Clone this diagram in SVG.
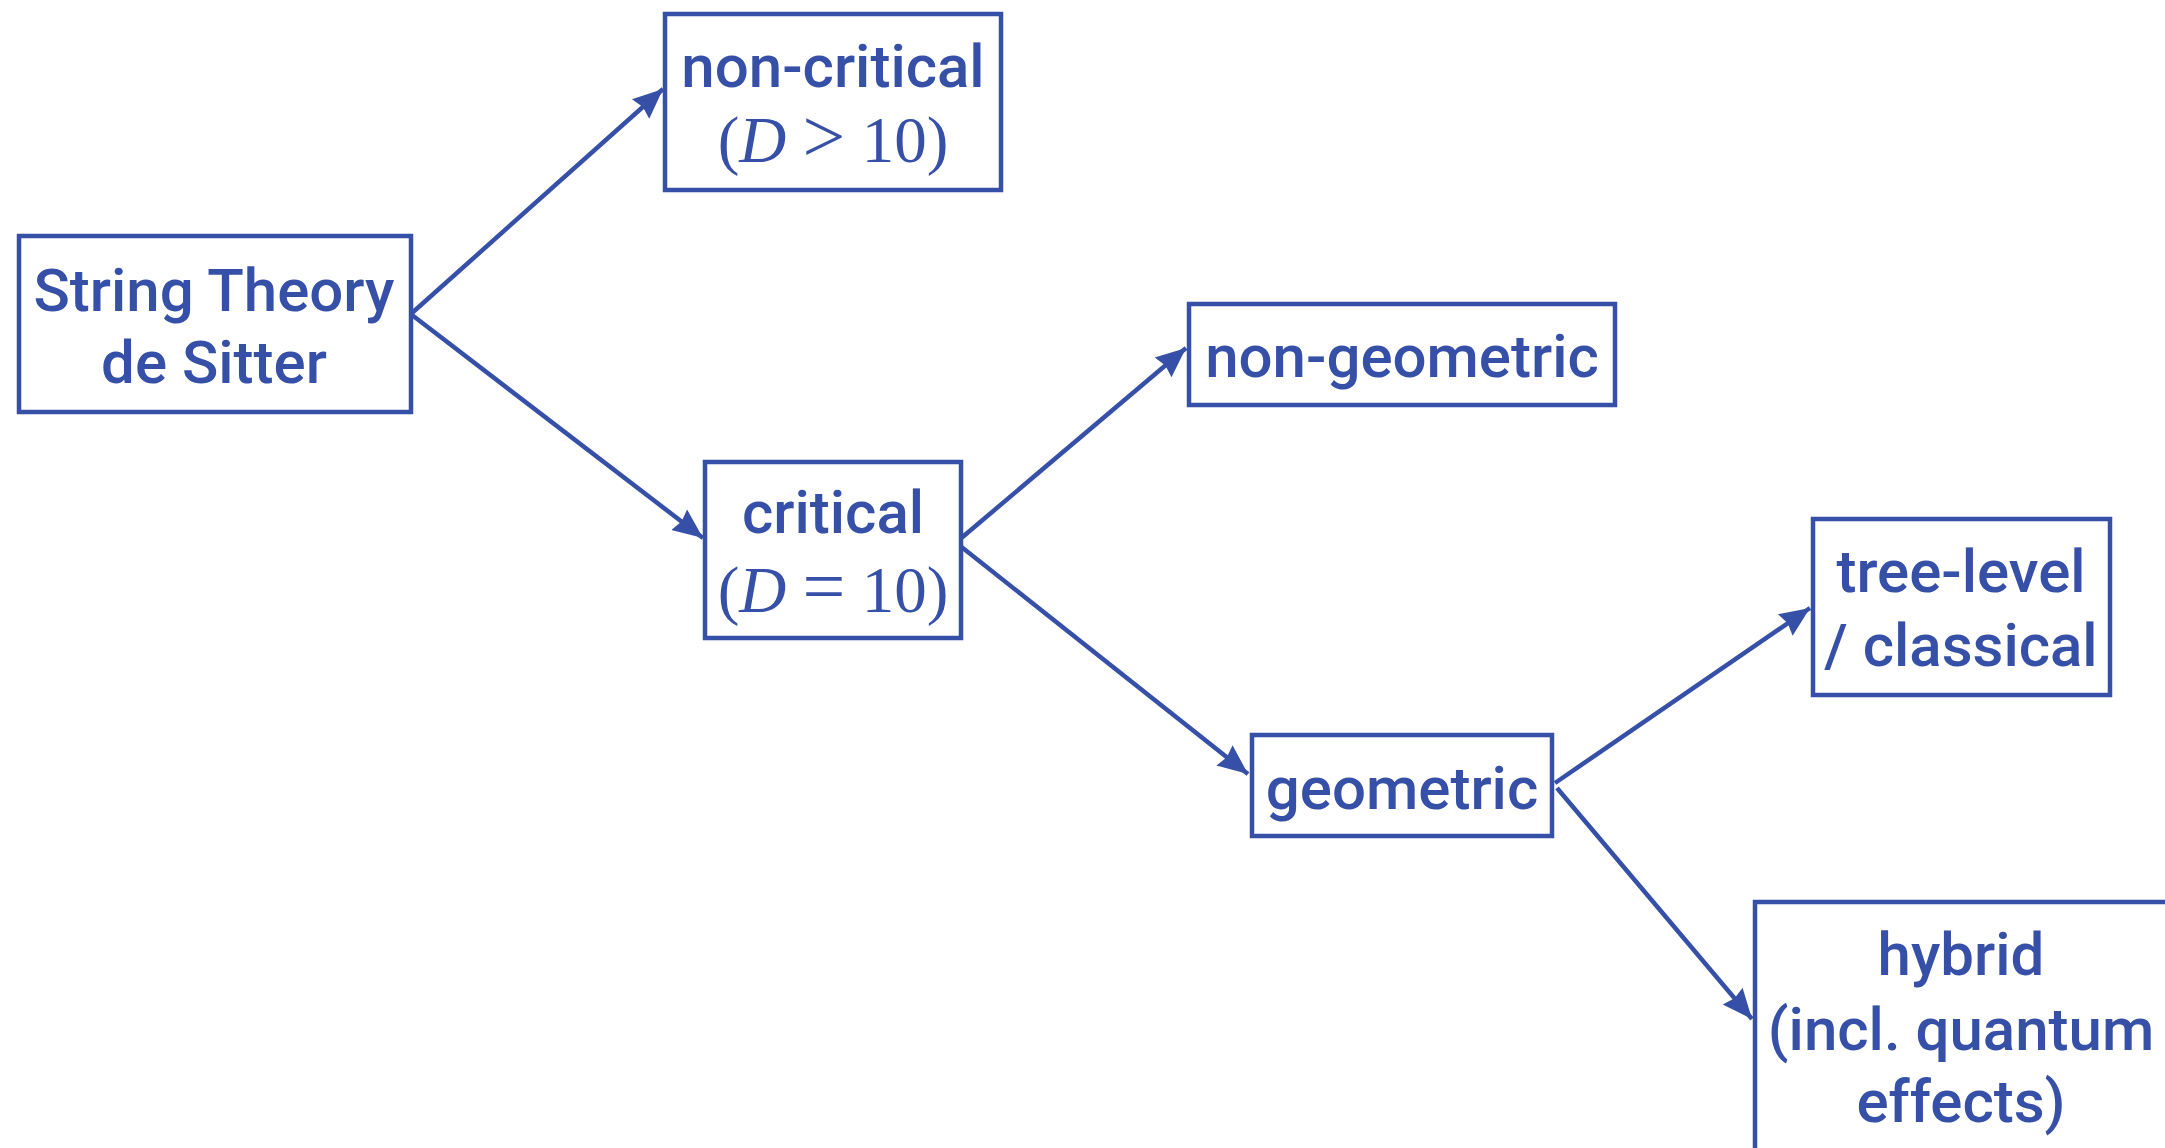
<svg xmlns="http://www.w3.org/2000/svg" width="2165" height="1148" viewBox="0 0 2165 1148">
<style>
.box{fill:#fff;stroke:#3650A8;stroke-width:4.5}
.t{font-family:Roboto,"Liberation Sans",sans-serif;font-weight:500;font-size:60px;fill:#3650A8;text-anchor:middle}
.m{font-family:"Liberation Serif",serif;font-size:65px;fill:#3650A8;text-anchor:middle}
.rel{font-size:76px}
.e{fill:none;stroke:#3650A8;stroke-width:4.5}
</style>
<defs>
<marker id="ah" markerUnits="userSpaceOnUse" markerWidth="34" markerHeight="30" refX="30" refY="14" orient="auto">
<path d="M0,1 L30,14 L0,27 L3,14 Z" fill="#3650A8"/>
</marker>
</defs>
<rect width="2165" height="1148" fill="#fff"/>
<g id="connectors">
<line class="e" x1="412" y1="313" x2="663" y2="89" marker-end="url(#ah)"/>
<line class="e" x1="412" y1="315" x2="703" y2="538" marker-end="url(#ah)"/>
<line class="e" x1="959" y1="540" x2="1186" y2="348" marker-end="url(#ah)"/>
<line class="e" x1="959" y1="545" x2="1248" y2="774" marker-end="url(#ah)"/>
<line class="e" x1="1555" y1="783" x2="1810" y2="608" marker-end="url(#ah)"/>
<line class="e" x1="1557" y1="788" x2="1752" y2="1019" marker-end="url(#ah)"/>
</g>
<g id="string-theory">
<rect class="box" x="19" y="236" width="392" height="176"/>
<text class="t" x="214" y="311">String Theory</text>
<text class="t" x="214" y="383">de Sitter</text>
</g>
<g id="non-critical">
<rect class="box" x="665" y="14" width="336" height="176"/>
<text class="t" x="833" y="87">non-critical</text>
<text class="m" x="833" y="162">(<tspan font-style="italic">D</tspan> <tspan class="rel">&gt;</tspan> 10)</text>
</g>
<g id="critical">
<rect class="box" x="705" y="462" width="256" height="176"/>
<text class="t" x="833" y="533">critical</text>
<text class="m" x="833" y="612">(<tspan font-style="italic">D</tspan> <tspan class="rel">=</tspan> 10)</text>
</g>
<g id="non-geometric">
<rect class="box" x="1189" y="304" width="426" height="101"/>
<text class="t" x="1402" y="377">non-geometric</text>
</g>
<g id="geometric">
<rect class="box" x="1252" y="735" width="300" height="101"/>
<text class="t" x="1402" y="809">geometric</text>
</g>
<g id="tree-level">
<rect class="box" x="1813" y="519" width="297" height="176"/>
<text class="t" x="1961" y="592">tree-level</text>
<text class="t" x="1961" y="666">/ classical</text>
</g>
<g id="hybrid">
<rect class="box" x="1755" y="902" width="420" height="260"/>
<text class="t" x="1961" y="975">hybrid</text>
<text class="t" x="1961" y="1050">(incl. quantum</text>
<text class="t" x="1961" y="1122">effects)</text>
</g>
</svg>
